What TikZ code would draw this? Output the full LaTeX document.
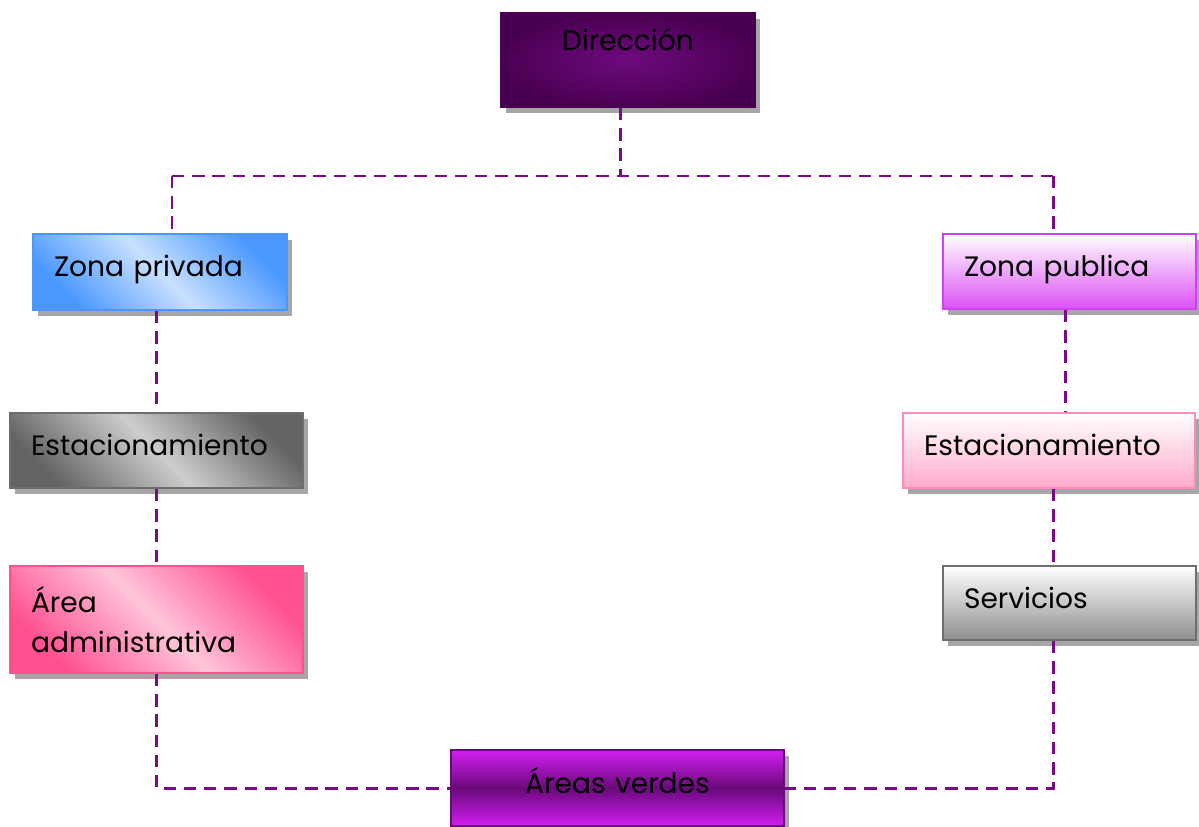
\documentclass[tikz,border=0pt]{standalone}
\usepackage{fontspec}
\setmainfont{Poppins}
\usetikzlibrary{positioning, shadows}

\definecolor{linkpurple}{HTML}{7A0A87}
\definecolor{dirdark}{HTML}{4A0052}
\definecolor{dirlight}{HTML}{6E0A7E}
\definecolor{privblue}{HTML}{4A98FF}
\definecolor{privlight}{HTML}{C8E0FF}
\definecolor{pubmag}{HTML}{DC50F6}
\definecolor{publine}{HTML}{D040F0}
\definecolor{graydark}{HTML}{646464}
\definecolor{graylight}{HTML}{CDCDCD}
\definecolor{grayline}{HTML}{6E6E6E}
\definecolor{pinksoft}{HTML}{FFAACB}
\definecolor{pinkline}{HTML}{FF88BE}
\definecolor{pinkhot}{HTML}{FF5090}
\definecolor{pinkpale}{HTML}{FFC4DA}
\definecolor{servgray}{HTML}{8E8E8E}
\definecolor{verdemag}{HTML}{D21EF2}
\definecolor{verdedark}{HTML}{6A0A7A}

\begin{document}
\begin{tikzpicture}[
    x=0.02cm, y=-0.02cm,
    box/.style = {rectangle, line width=1.2pt, inner xsep=0.42cm, inner ysep=0pt, align=left,
                  font=\fontsize{16}{23}\selectfont,
                  drop shadow={shadow xshift=2.6pt, shadow yshift=-3.2pt, fill=black, opacity=0.35}},
    oneline/.style = {text height=0.45cm, text depth=0.25cm},
    link/.style = {draw=linkpurple, line width=1.7pt, dash pattern=on 7pt off 4.5pt}
]

\useasboundingbox (0,0) rectangle (1199,827);

\node [box, align=center, text width=4.24cm, minimum height=1.88cm, draw=dirdark,
       inner color=dirlight, outer color=dirdark] (dir) at (628, 60) {Dirección\\ \phantom{x}};

\node [box, oneline, text width=4.24cm, minimum height=1.52cm, draw=privblue,
       top color=privblue, bottom color=privblue, middle color=privlight, shading angle=-45]
      (zpriv) at (160, 272) {Zona privada};
\node [box, oneline, text width=4.22cm, minimum height=1.50cm, draw=publine,
       top color=white, bottom color=pubmag] (zpub) at (1069.5, 271.5) {Zona publica};

\node [box, oneline, text width=5.02cm, minimum height=1.50cm, draw=grayline,
       top color=graydark, bottom color=graydark, middle color=graylight, shading angle=-45]
      (estpriv) at (156.5, 450.5) {Estacionamiento};
\node [box, oneline, text width=5.00cm, minimum height=1.50cm, draw=pinkline,
       top color=white, bottom color=pinksoft] (estpub) at (1049, 450.5) {Estacionamiento};

\node [box, text width=5.02cm, minimum height=2.14cm, draw=pinkhot,
       top color=pinkhot, bottom color=pinkhot, middle color=pinkpale, shading angle=-45]
      (admin) at (156.5, 619.5) {Área\\administrativa};
\node [box, oneline, text width=4.22cm, minimum height=1.48cm, draw=grayline,
       top color=white, bottom color=servgray] (serv) at (1069.5, 603) {Servicios};

\node [box, oneline, align=center, text width=5.82cm, minimum height=1.52cm, draw=verdedark,
       top color=verdemag, bottom color=verdemag, middle color=verdedark]
      (verdes) at (617.5, 788) {Áreas verdes};

% links
\coordinate (hub) at (620, 176);
\coordinate (hl) at (172, 176);
\coordinate (hr) at (1053, 176);

\draw [link] (dir.south -| hub) -- (hub);
\draw [link] (hl) -- (hr);
\draw [link] (hl) -- (zpriv.north -| hl);
\draw [link] (hr) -- (zpub.north -| hr);

\draw [link] (zpriv.south -| estpriv.north) -- (estpriv.north);
\draw [link] (estpriv) -- (admin);
\draw [link] (admin.south) |- (verdes.west);

\draw [link] (zpub.south -| 1065,0) -- (estpub.north -| 1065,0);
\draw [link] (estpub.south -| hr) -- (serv.north -| hr);
\draw [link] (serv.south -| hr) |- (verdes.east);

\end{tikzpicture}
\end{document}
